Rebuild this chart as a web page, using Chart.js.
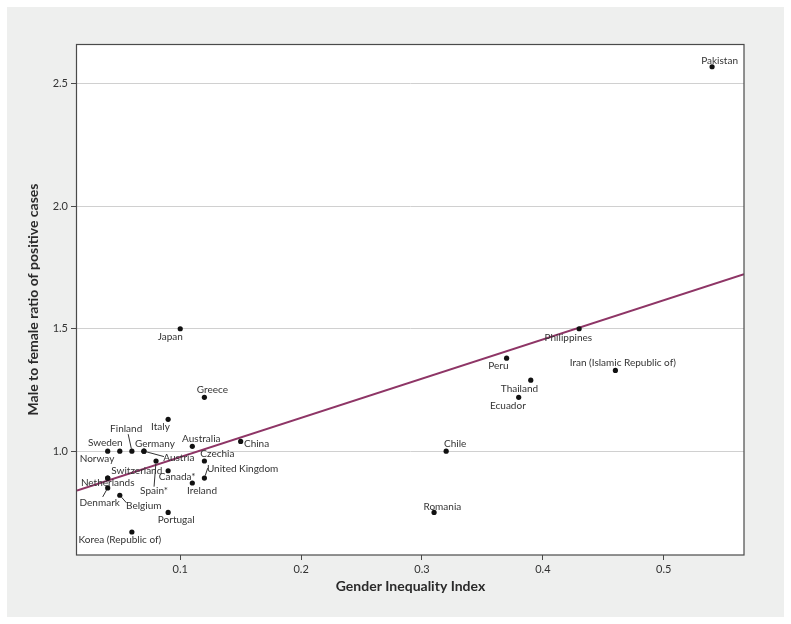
<!DOCTYPE html>
<html><head><meta charset="utf-8">
<script src="https://cdn.jsdelivr.net/npm/chart.js@4.4.1/dist/chart.umd.min.js"></script>
<style>html,body{margin:0;padding:0;background:#fff;}#wrap{width:791px;height:624px;position:relative;}canvas{display:block;}</style>
</head><body><div id="wrap"><canvas id="c" width="791" height="624"></canvas></div>
<script>
const countries = ["Pakistan","Philippines","Iran (Islamic Republic of)","Peru","Thailand","Ecuador","Chile","Romania","Japan","Greece","Italy","China","Australia","Czechia","United Kingdom","Ireland","Canada*","Spain*","Portugal","Korea (Republic of)","Norway","Sweden","Finland","Germany","Austria","Switzerland","Netherlands","Denmark","Belgium"];
const gii =   [0.54,0.43,0.46,0.37,0.39,0.38,0.32,0.31,0.10,0.12,0.09,0.15,0.11,0.12,0.12,0.11,0.09,0.08,0.09,0.06,0.04,0.05,0.06,0.07,0.07,0.04,0.04,0.04,0.05];
const ratio = [2.57,1.50,1.33,1.38,1.29,1.22,1.00,0.75,1.50,1.22,1.13,1.04,1.02,0.96,0.89,0.87,0.92,0.96,0.75,0.67,1.00,1.00,1.00,1.00,1.00,0.89,0.89,0.85,0.82];
const fitX = [0.0146, 0.5664];
const fitY = [0.839, 1.723];
const xTicks = [0.1,0.2,0.3,0.4,0.5];
const yTicks = [1.0,1.5,2.0,2.5];
const xTitle = "Gender Inequality Index";
const yTitle = "Male to female ratio of positive cases";

// label placement (pixel offsets from each dot) and leader line ends
const labelLayout = {
 "Pakistan":[7.5,-6.3],"Philippines":[-10.8,8.7],"Iran (Islamic Republic of)":[7.4,-7.4],"Peru":[-8.2,7.4],
 "Thailand":[-11.3,8.4],"Ecuador":[-10.8,8.3],"Chile":[9,-7.3],"Romania":[8.3,-6],"Japan":[-10,7.7],
 "Greece":[8,-7.7],"Italy":[-7.7,7.4],"China":[15.9,2.3],"Australia":[9,-7.3],"Czechia":[13,-6.7],
 "United Kingdom":[38.2,-9.3,3.3,-10],"Ireland":[9.7,8],"Canada*":[9,6],"Spain*":[-2,29.7,-2,25.7],
 "Portugal":[8.1,7],"Korea (Republic of)":[-12,8],"Norway":[-10.7,7.7],"Sweden":[-14.5,-8],
 "Finland":[-5.7,-22,-3.7,-17],"Germany":[10.9,-7],"Austria":[34.9,6.7,20,5.4],"Switzerland":[29.1,-7.3],
 "Netherlands":[0,5],"Denmark":[-8,14.6,-5,9],"Belgium":[24,10.3,6.7,7.6]
};

const FONT = "Lato, 'Noto Sans', sans-serif";

const bgPlugin = {
  id:'bg',
  beforeDraw(chart){
    const ctx = chart.ctx, a = chart.chartArea;
    ctx.save();
    ctx.fillStyle = '#ffffff'; ctx.fillRect(0,0,chart.width,chart.height);
    ctx.fillStyle = '#eeefee'; ctx.fillRect(7,7,777,610);
    ctx.fillStyle = '#ffffff'; ctx.fillRect(a.left,a.top,a.right-a.left,a.bottom-a.top);
    ctx.restore();
  },
  afterDraw(chart){
    const ctx = chart.ctx, a = chart.chartArea;
    ctx.save();
    ctx.strokeStyle = '#4a4a4a'; ctx.lineWidth = 1.2;
    ctx.strokeRect(Math.round(a.left)-0.5, Math.round(a.top)+0.5, Math.round(a.right-a.left)+0.5, Math.round(a.bottom-a.top)-0.5);
    ctx.restore();
  }
};

const labelPlugin = {
  id:'labels',
  afterDatasetsDraw(chart){
    const ctx = chart.ctx, xs = chart.scales.x, ys = chart.scales.y;
    ctx.save();
    ctx.font = "10px " + FONT;
    ctx.textAlign = 'center'; ctx.textBaseline = 'middle';
    countries.forEach((c,i)=>{
      const px = xs.getPixelForValue(gii[i]), py = ys.getPixelForValue(ratio[i]);
      const L = labelLayout[c] || [0,-8];
      if (L.length > 2) {
        ctx.strokeStyle = '#333'; ctx.lineWidth = 1;
        ctx.beginPath();
        const len = Math.hypot(L[2],L[3]);
        ctx.moveTo(px + L[2]/len*2.5, py + L[3]/len*2.5);
        ctx.lineTo(px + L[2], py + L[3]);
        ctx.stroke();
      }
      ctx.fillStyle = '#333';
      ctx.fillText(c, px + L[0], py + L[1]);
    });
    ctx.restore();
  }
};

new Chart(document.getElementById('c'), {
  type:'scatter',
  data:{
    datasets:[
      {type:'line', data: fitX.map((x,i)=>({x:x,y:fitY[i]})), borderColor:'#8e3566', borderWidth:2, pointRadius:0, fill:false, tension:0, order:2},
      {data: gii.map((x,i)=>({x:x,y:ratio[i]})), backgroundColor:'#111', borderColor:'#111', pointRadius:2.6, pointBorderWidth:0, order:1}
    ]
  },
  options:{
    responsive:false, animation:false, devicePixelRatio:1,
    layout:{padding:{left:7,top:44,right:47,bottom:7}},
    plugins:{legend:{display:false}, tooltip:{enabled:false}},
    scales:{
      x:{type:'linear', min:fitX[0], max:fitX[1],
        afterFit(s){ s.height = 62; },
        afterBuildTicks(s){ s.ticks = xTicks.map(v=>({value:v})); },
        grid:{drawOnChartArea:false, drawTicks:true, tickLength:5, tickColor:'#4a4a4a'},
        border:{display:false},
        ticks:{font:{family:FONT,size:11}, color:'#333', padding:3, callback:(v)=>v.toFixed(1), maxRotation:0},
        title:{display:true, text:xTitle, font:{family:FONT,size:14,weight:'bold'}, color:'#2a2a2a', padding:{top:4,bottom:22}}
      },
      y:{type:'linear', min:0.576, max:2.663,
        afterFit(s){ s.width = 70; },
        afterBuildTicks(s){ s.ticks = yTicks.map(v=>({value:v})); },
        grid:{drawOnChartArea:true, color:'#d0d0d0', lineWidth:1, drawTicks:true, tickLength:6, tickColor:'#4a4a4a'},
        border:{display:false},
        ticks:{font:{family:FONT,size:11}, color:'#333', padding:3, callback:(v)=>v.toFixed(1)},
        title:{display:true, text:yTitle, font:{family:FONT,size:14,weight:'bold'}, color:'#2a2a2a', padding:{top:18,bottom:0}}
      }
    }
  },
  plugins:[bgPlugin,labelPlugin]
});
</script></body></html>
